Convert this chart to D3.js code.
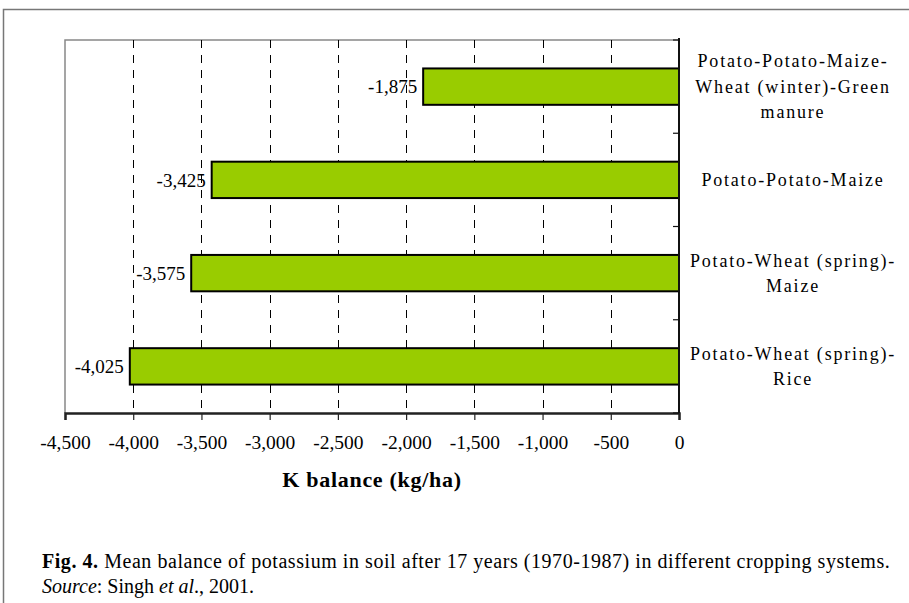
<!DOCTYPE html>
<html>
<head>
<meta charset="utf-8">
<script src="https://cdn.jsdelivr.net/npm/d3@7"></script>
<style>
  body { margin: 0; background: #fff; }
  text { font-family: "Liberation Serif", "Times New Roman", serif; fill: #000; }
</style>
</head>
<body>
<div id="chart"></div>
<script>
// data
var systems = [
  ["Potato-Potato-Maize-", "Wheat (winter)-Green", "manure"],
  ["Potato-Potato-Maize"],
  ["Potato-Wheat (spring)-", "Maize"],
  ["Potato-Wheat (spring)-", "Rice"]
];
var kBalance = [-1875, -3425, -3575, -4025];
var xTicks = [-4500, -4000, -3500, -3000, -2500, -2000, -1500, -1000, -500, 0];

(function(){
var width = 909, height = 603;
var mLeft = 65, mRight = 679, mTop = 40, mBottom = 413;

var fmt = function(d){ return d3.format(",")(d).replace("\u2212", "-"); };

var svg = d3.select("#chart").append("svg")
    .attr("width", width)
    .attr("height", height);

// outer frame
svg.append("path")
    .attr("d", "M3.5," + height + "V9.5H" + width)
    .attr("fill", "none")
    .attr("stroke", "#777")
    .attr("stroke-width", 1.5);

var x = d3.scaleLinear().domain([-4500, 0]).range([mLeft, mRight]);
var y = d3.scaleBand().domain(d3.range(systems.length)).range([mTop, mBottom]).paddingInner(0.61).paddingOuter(0.305);
var yb = d3.scaleBand().domain(d3.range(systems.length)).range([mTop, mBottom]);

// plot box (top and left, gray)
svg.append("path")
    .attr("d", "M" + mLeft + "," + mBottom + "V" + mTop + "H" + mRight)
    .attr("fill", "none")
    .attr("stroke", "#888")
    .attr("stroke-width", 1.5);

// dashed gridlines
svg.selectAll(".grid")
    .data(xTicks.filter(function(d){ return d > -4500 && d < 0; }))
    .enter().append("line")
    .attr("x1", function(d){ return Math.round(x(d)) + 0.5; })
    .attr("x2", function(d){ return Math.round(x(d)) + 0.5; })
    .attr("y1", mTop)
    .attr("y2", mBottom)
    .attr("stroke", "#000")
    .attr("stroke-width", 1)
    .attr("stroke-dasharray", "8,7");

// bars
svg.selectAll(".bar")
    .data(kBalance)
    .enter().append("rect")
    .attr("x", function(d){ return x(d); })
    .attr("y", function(d, i){ return y(i); })
    .attr("width", function(d){ return x(0) - x(d); })
    .attr("height", y.bandwidth())
    .attr("fill", "#99CC00")
    .attr("stroke", "#000")
    .attr("stroke-width", 2);

// value labels
svg.selectAll(".val")
    .data(kBalance)
    .enter().append("text")
    .attr("x", function(d){ return x(d) - 6; })
    .attr("y", function(d, i){ return y(i) + y.bandwidth() / 2; })
    .attr("dy", "0.35em")
    .attr("text-anchor", "end")
    .style("font-size", "19px")
    .text(fmt);

// x axis
var xAxis = d3.axisBottom(x)
    .tickValues(xTicks)
    .tickSize(7)
    .tickPadding(15)
    .tickFormat(fmt);

var gx = svg.append("g")
    .attr("transform", "translate(0," + mBottom + ")")
    .call(xAxis);
gx.select(".domain").attr("stroke", "#222").attr("stroke-width", 2.5);
gx.selectAll(".tick line").attr("stroke", "#222").attr("stroke-width", 1.2);
gx.selectAll(".tick text")
    .style("font-family", "'Liberation Serif', serif")
    .style("font-size", "19.5px")
    .attr("fill", "#000");

// right category axis at zero
var gy = svg.append("g");
gy.append("line")
    .attr("x1", mRight).attr("x2", mRight)
    .attr("y1", mTop - 2).attr("y2", mBottom)
    .attr("stroke", "#111").attr("stroke-width", 2);
gy.selectAll(".ytick")
    .data(d3.range(systems.length + 1))
    .enter().append("line")
    .attr("x1", mRight - 6).attr("x2", mRight)
    .attr("y1", function(i){ return mTop + i * yb.step(); })
    .attr("y2", function(i){ return mTop + i * yb.step(); })
    .attr("stroke", "#111").attr("stroke-width", 1.2);

// category labels
var cat = svg.selectAll(".cat")
    .data(systems)
    .enter().append("text")
    .attr("text-anchor", "middle")
    .style("font-size", "18px")
    .style("letter-spacing", "1.8px")
    .attr("transform", function(d, i){
        var cy = yb(i) + yb.bandwidth() / 2 - (d.length - 1) * 25.5 / 2;
        return "translate(793," + cy + ")";
    });
cat.selectAll("tspan")
    .data(function(d){ return d; })
    .enter().append("tspan")
    .attr("x", 0)
    .attr("y", function(d, i){ return i * 25.5; })
    .attr("dy", "0.35em")
    .text(function(d){ return d; });

// axis title
svg.append("text")
    .attr("x", (mLeft + mRight) / 2)
    .attr("y", 487)
    .attr("text-anchor", "middle")
    .style("font-size", "22px")
    .style("font-weight", "bold")
    .style("letter-spacing", "0.7px")
    .text("K balance (kg/ha)");

// caption
var cap = svg.append("text")
    .attr("x", 42)
    .attr("y", 568)
    .style("font-size", "20px")
    .style("letter-spacing", "0.55px");
cap.append("tspan").style("font-weight", "bold").text("Fig. 4.");
cap.append("tspan").text(" Mean balance of potassium in soil after 17 years (1970-1987) in different cropping systems.");

var src = svg.append("text")
    .attr("x", 42)
    .attr("y", 593)
    .style("font-size", "20px");
src.append("tspan").style("font-style", "italic").text("Source");
src.append("tspan").text(": Singh ");
src.append("tspan").style("font-style", "italic").text("et al");
src.append("tspan").text("., 2001.");
})();
</script>
</body>
</html>
